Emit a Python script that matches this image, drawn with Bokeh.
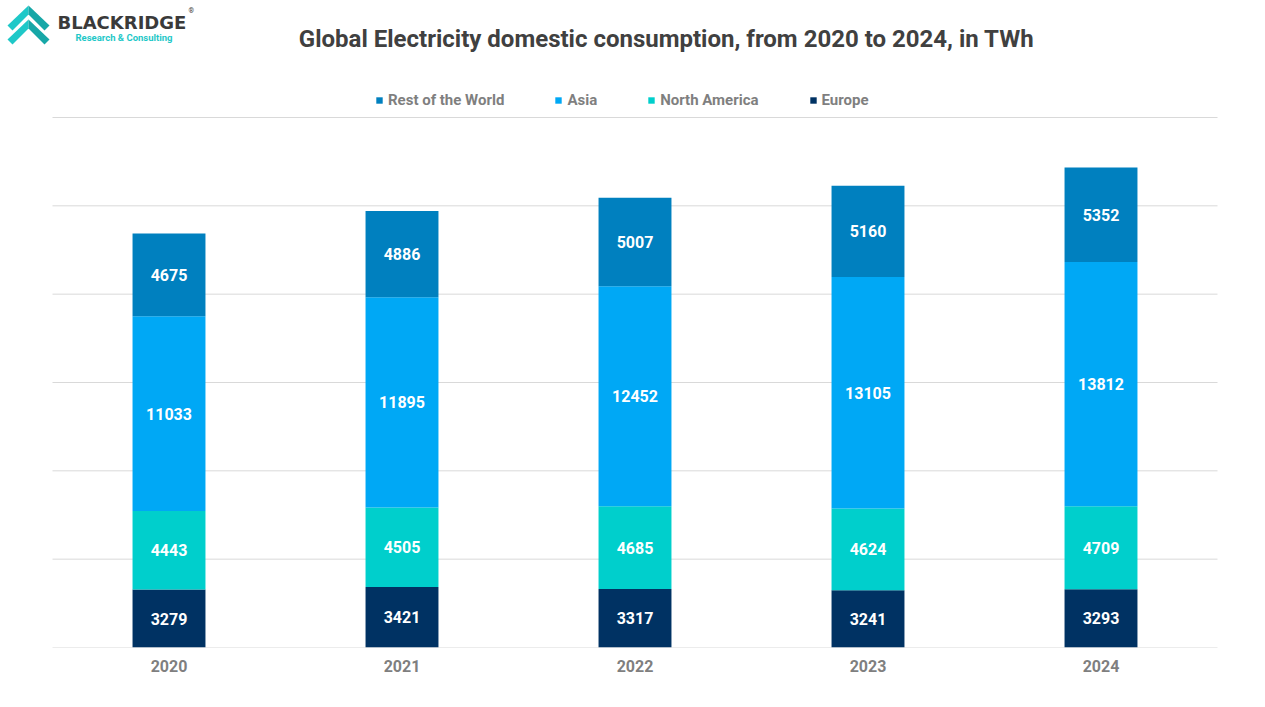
from bokeh.plotting import figure
from bokeh.models import (ColumnDataSource, Legend, LegendItem, Label, FixedTicker,
                          PolyAnnotation, Range1d)
from bokeh.core.properties import value
from bokeh.embed import file_html
from bokeh.resources import INLINE

years = ["2020", "2021", "2022", "2023", "2024"]
europe = [3279, 3421, 3317, 3241, 3293]
north_america = [4443, 4505, 4685, 4624, 4709]
asia = [11033, 11895, 12452, 13105, 13812]
rest_of_world = [4675, 4886, 5007, 5160, 5352]
series_names = ["Europe", "North America", "Asia", "Rest of the World"]
series_colors = ["#003263", "#00CFCC", "#00A8F5", "#0080BF"]
grid_ticks = [0, 5000, 10000, 15000, 20000, 25000, 30000]

positions = list(range(len(years)))
series_values = [europe, north_america, asia, rest_of_world]
data = {"x": positions}
bottoms = [0] * len(years)
for name, vals in zip(series_names, series_values):
    data[name] = vals
    data["mid_" + name] = [b + v / 2 for b, v in zip(bottoms, vals)]
    data["lbl_" + name] = [str(v) for v in vals]
    bottoms = [b + v for b, v in zip(bottoms, vals)]
src = ColumnDataSource(data)

FONT = "Roboto"
W, H = 1249, 691
FRAME_H = 647          # frame covers from top of figure to the baseline
TOP_GRID = 117         # pixel row of the highest gridline
PX = 233.0             # pixels per category
X0 = 168.5             # pixel position of first category centre
y_top = grid_ticks[-1] * FRAME_H / (FRAME_H - TOP_GRID)

p = figure(x_range=Range1d(-X0 / PX, (W - X0) / PX), y_range=Range1d(0, y_top),
           width=W, height=H, output_backend="svg", toolbar_location=None,
           min_border_left=0, min_border_right=0, min_border_top=0,
           min_border_bottom=H - FRAME_H)
p.outline_line_color = None
p.background_fill_color = "white"
p.border_fill_color = "white"
p.grid.visible = False
p.yaxis.visible = False

# horizontal gridlines spanning the category band
p.segment(x0=-0.5, x1=len(years) - 0.5, y0=grid_ticks, y1=grid_ticks,
          line_color="#D9D9D9", line_width=1)

renderers = p.vbar_stack(series_names, x="x", width=0.313, color=series_colors,
                         line_width=0, source=src)

for name in series_names:
    p.text(x="x", y="mid_" + name, text="lbl_" + name, source=src,
           text_color="white", text_font=value(FONT), text_font_style="bold",
           text_font_size="16px", text_align="center", text_baseline="middle")

ax = p.xaxis[0]
ax.ticker = FixedTicker(ticks=positions)
ax.major_label_overrides = {i: y for i, y in zip(positions, years)}
ax.axis_line_color = None
ax.major_tick_line_color = None
ax.minor_tick_line_color = None
ax.major_tick_out = 0
ax.major_tick_in = 0
ax.major_label_standoff = 12
ax.major_label_text_font = FONT
ax.major_label_text_font_style = "bold"
ax.major_label_text_font_size = "16px"
ax.major_label_text_color = "#7F7F7F"

items = [LegendItem(label=n, renderers=[r]) for n, r in zip(series_names, renderers)][::-1]
legend = Legend(items=items, orientation="horizontal", location=(375, FRAME_H - 100 - 9),
                glyph_width=8, glyph_height=8, label_standoff=5, spacing=50,
                label_height=18, padding=0, margin=0, border_line_color=None,
                background_fill_alpha=0,
                label_text_font=FONT, label_text_font_style="bold",
                label_text_font_size="15px", label_text_color="#7F7F7F")
p.add_layout(legend)

def sy(page_y):
    return FRAME_H - page_y

p.add_layout(Label(x=666, y=sy(38), x_units="screen", y_units="screen",
                   text="Global Electricity domestic consumption, from 2020 to 2024, in TWh",
                   text_font=FONT, text_font_style="bold", text_font_size="24px",
                   text_color="#404040", text_align="center", text_baseline="middle"))

# logo
teal = "#1FC8C8"
teal_dark = "#17A7A7"
for dy in (0, 14):
    left = [7, 28, 28, 12]
    left_y = [25, 5, 14, 30]
    right = [28, 49, 44, 28]
    right_y = [5, 25, 30, 14]
    p.add_layout(PolyAnnotation(xs=left, ys=[sy(v + dy) for v in left_y],
                                xs_units="screen", ys_units="screen",
                                fill_color=teal, fill_alpha=1, line_color=None))
    p.add_layout(PolyAnnotation(xs=right, ys=[sy(v + dy) for v in right_y],
                                xs_units="screen", ys_units="screen",
                                fill_color=teal_dark, fill_alpha=1, line_color=None))
p.add_layout(Label(x=57, y=sy(22), x_units="screen", y_units="screen", text="BLACKRIDGE",
                   text_font="DejaVu Sans", text_font_style="bold", text_font_size="18px",
                   text_color="#3A3A3A", text_align="left", text_baseline="middle"))
p.add_layout(Label(x=75, y=sy(37), x_units="screen", y_units="screen",
                   text="Research & Consulting",
                   text_font=FONT, text_font_style="bold", text_font_size="9.5px",
                   text_color=teal, text_align="left", text_baseline="middle"))
p.add_layout(Label(x=188, y=sy(10), x_units="screen", y_units="screen", text="®",
                   text_font=FONT, text_font_size="7px",
                   text_color="#3A3A3A", text_align="left", text_baseline="middle"))

open("out.html", "w").write(file_html(p, INLINE))
